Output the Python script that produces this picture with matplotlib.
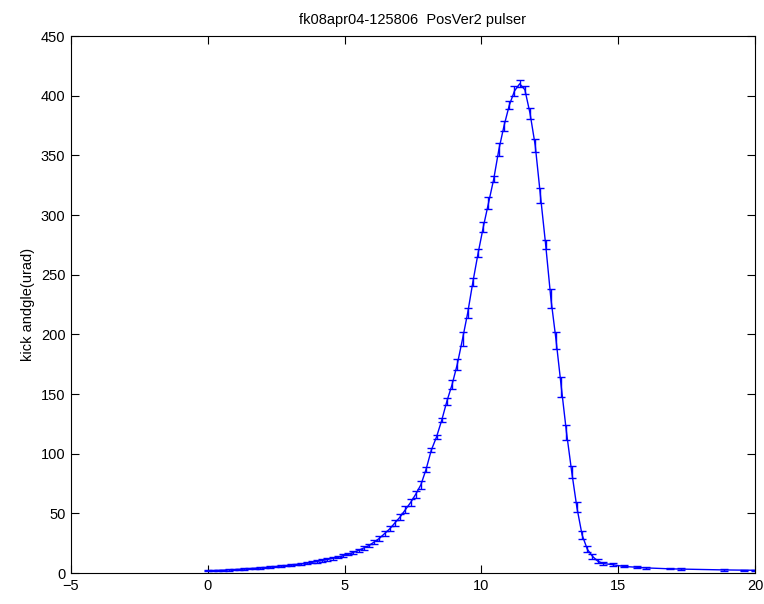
import numpy as np
import matplotlib
matplotlib.use('Agg')
import matplotlib.pyplot as plt

plt.rcParams['font.family'] = ['Liberation Sans', 'DejaVu Sans']

# delay (x) and kick angle (urad)
delay = [0.00, 0.19, 0.38, 0.57, 0.76, 0.95, 1.14, 1.33, 1.52, 1.71,
         1.90, 2.09, 2.28, 2.47, 2.66, 2.85, 3.04, 3.23, 3.42, 3.61,
         3.80, 3.99, 4.18, 4.37, 4.56, 4.75, 4.94, 5.13, 5.32, 5.51,
         5.70, 5.89, 6.08, 6.27, 6.46, 6.65, 6.84, 7.03, 7.22, 7.41,
         7.60, 7.79, 7.98, 8.17, 8.36, 8.55, 8.74, 8.93, 9.12, 9.31,
         9.50, 9.69, 9.88, 10.07, 10.26, 10.45, 10.64, 10.83, 11.02, 11.21,
         11.40, 11.59, 11.78, 11.97, 12.16, 12.35, 12.54, 12.73, 12.92, 13.11,
         13.30, 13.49, 13.68, 13.87, 14.06, 14.25, 14.44, 14.80, 15.20, 15.70,
         16.00, 16.90, 17.30, 18.85, 19.60, 20.00]
kick = [2.0, 2.0, 2.2, 2.4, 2.6, 2.8, 3.1, 3.4, 3.7, 4.0,
        4.3, 4.6, 5.0, 5.4, 5.8, 6.2, 6.7, 7.2, 7.7, 8.3,
        9.0, 9.7, 10.5, 11.3, 12.3, 13.3, 14.5, 15.8, 17.3, 19.0,
        21, 23, 26, 29, 33, 37, 42, 47, 53, 59,
        66, 74, 87, 103, 114, 128, 144, 158, 175, 196,
        218, 244, 268, 290, 310, 330, 355, 375, 392, 404,
        410, 405, 385, 358, 316, 275, 230, 195, 156, 118,
        85, 55, 32, 20, 14, 10, 8, 7, 5.5, 4.8,
        4.3, 3.5, 3.3, 2.6, 2.4, 2.3]
err = [0.5, 0.5, 0.5, 0.5, 0.5, 0.5, 0.5, 0.5, 0.5, 0.5,
       0.6, 0.6, 0.6, 0.6, 0.6, 0.7, 0.7, 0.7, 0.8, 0.8,
       0.8, 0.9, 0.9, 1.0, 1.0, 1.0, 1.1, 1.1, 1.2, 1.3,
       1.4, 1.5, 1.6, 1.8, 2.0, 2.2, 2.4, 2.6, 2.8, 3.0,
       3.0, 3.2, 2.0, 2.0, 1.5, 1.5, 2.8, 4.0, 4.5, 5.6,
       4.5, 3.2, 3.5, 4.2, 5.2, 2.4, 5.3, 4.2, 3.2, 4.0,
       3.0, 3.5, 4.5, 5.5, 6.3, 3.8, 8.0, 7.0, 8.4, 6.4,
       5.0, 4.2, 3.5, 2.5, 2.0, 1.5, 1.2, 1.0, 0.8, 0.7,
       0.6, 0.5, 0.5, 0.5, 0.5, 0.5]

fig = plt.figure(figsize=(7.64, 6.04), dpi=100)
ax = fig.add_axes([0.0929, 0.0513, 0.8953, 0.889])

ax.errorbar(delay, kick, yerr=err, color='#0000ff', linewidth=1.0,
            elinewidth=1.0, capsize=3, capthick=1.0)

ax.set_xlim(-5, 20)
ax.set_ylim(0, 450)
ax.set_xticks([-5, 0, 5, 10, 15, 20])
ax.set_yticks(np.arange(0, 451, 50))
ax.tick_params(direction='in', length=6, width=0.8, top=True, right=True,
               labelsize=10.5, pad=4)
for s in ax.spines.values():
    s.set_linewidth(0.8)

ax.set_ylabel('kick andgle(urad)', fontsize=10.5, labelpad=4)
ax.set_title('fk08apr04-125806  PosVer2 pulser', fontsize=10.5, pad=9)

fig.savefig('out.png', dpi=100)
